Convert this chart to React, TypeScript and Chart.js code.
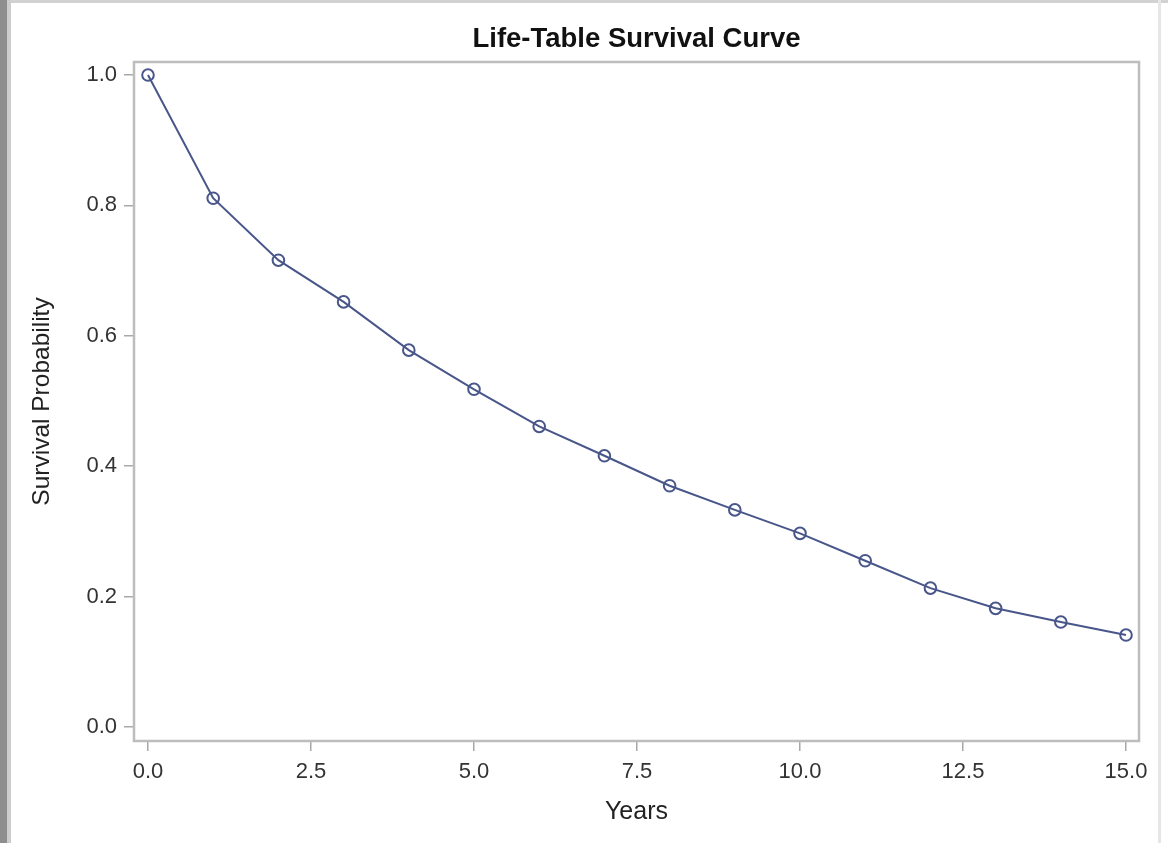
import React, { useEffect, useRef } from "react";
import { Chart, registerables } from "chart.js";

Chart.register(...registerables);

const years = [0, 1, 2, 3, 4, 5, 6, 7, 8, 9, 10, 11, 12, 13, 14, 15];
const survival = [1.0, 0.811, 0.716, 0.652, 0.578, 0.518, 0.461, 0.416, 0.37, 0.333, 0.297, 0.255, 0.213, 0.182, 0.161, 0.141];
const xTickValues = [0, 2.5, 5, 7.5, 10, 12.5, 15];
const yTickValues = [0, 0.2, 0.4, 0.6, 0.8, 1.0];

const FONT = "'Liberation Sans', Arial, Helvetica, sans-serif";
const LINE = "#48568a";
const FRAME = "#bdbdbd";

const plotFrame = {
  id: "plotFrame",
  beforeDatasetsDraw(chart: any) {
    const { ctx, chartArea } = chart;
    ctx.save();
    ctx.strokeStyle = FRAME;
    ctx.lineWidth = 2.5;
    ctx.strokeRect(chartArea.left, chartArea.top, chartArea.right - chartArea.left, chartArea.bottom - chartArea.top);
    ctx.restore();
  },
};

export default function App() {
  const ref = useRef<HTMLCanvasElement>(null);

  useEffect(() => {
    if (!ref.current) return;
    const chart = new Chart(ref.current, {
      type: "line",
      data: {
        datasets: [
          {
            data: years.map((x, i) => ({ x, y: survival[i] })),
            borderColor: LINE,
            borderWidth: 2,
            pointStyle: "circle",
            pointRadius: 5.8,
            pointBorderWidth: 2,
            pointBorderColor: LINE,
            pointBackgroundColor: "rgba(0,0,0,0)",
            tension: 0,
          },
        ],
      },
      options: {
        animation: false,
        responsive: false,
        layout: { padding: { left: 0, right: 29, top: 0, bottom: 0 } },
        plugins: {
          legend: { display: false },
          tooltip: { enabled: false },
          title: {
            display: true,
            text: "Life-Table Survival Curve",
            fullSize: false,
            color: "#111",
            font: { family: FONT, size: 27.5, weight: "bold", lineHeight: 1.2 },
            padding: { top: 23, bottom: 6 },
          },
        },
        scales: {
          x: {
            type: "linear",
            min: -0.2147,
            max: 15.199,
            afterFit: (s: any) => {
              s.height = 102;
            },
            afterBuildTicks: (s: any) => {
              s.ticks = xTickValues.map((v) => ({ value: v }));
            },
            border: { display: false },
            grid: { drawOnChartArea: false, drawTicks: true, tickLength: 10, color: "#a8a8a8", lineWidth: 1.5 },
            ticks: {
              padding: 8,
              color: "#333",
              font: { family: FONT, size: 22 },
              callback: (v: any) => Number(v).toFixed(1),
              maxRotation: 0,
            },
            title: {
              display: true,
              text: "Years",
              color: "#222",
              font: { family: FONT, size: 25, lineHeight: 1.2 },
              padding: { top: 0, bottom: 16 },
            },
          },
          y: {
            type: "linear",
            min: -0.0215,
            max: 1.02,
            afterFit: (s: any) => {
              s.width = 134;
            },
            afterBuildTicks: (s: any) => {
              s.ticks = yTickValues.map((v) => ({ value: v }));
            },
            border: { display: false },
            grid: { drawOnChartArea: false, drawTicks: true, tickLength: 10, color: "#a8a8a8", lineWidth: 1.5 },
            ticks: {
              padding: 7,
              color: "#333",
              font: { family: FONT, size: 22 },
              callback: (v: any) => Number(v).toFixed(1),
            },
            title: {
              display: true,
              text: "Survival Probability",
              color: "#222",
              font: { family: FONT, size: 24.5, lineHeight: 1.2 },
              padding: { top: 28, bottom: 0 },
            },
          },
        },
      },
      plugins: [plotFrame],
    } as any);
    return () => chart.destroy();
  }, []);

  return (
    <div style={{ position: "fixed", left: 0, top: 0, width: 1168, height: 843, background: "#fff", overflow: "hidden" }}>
      <div style={{ position: "absolute", left: 0, top: 0, width: 1168, height: 3, background: "#d2d2d2" }} />
      <div style={{ position: "absolute", left: 0, top: 0, width: 7, height: 843, background: "#8e8e8e" }} />
      <div style={{ position: "absolute", left: 7, top: 0, width: 4, height: 843, background: "#cdcdcd" }} />
      <div style={{ position: "absolute", left: 1158, top: 0, width: 3, height: 843, background: "#e6e6e6" }} />
      <canvas ref={ref} width={1168} height={843} style={{ position: "absolute", left: 0, top: 0 }} />
    </div>
  );
}
